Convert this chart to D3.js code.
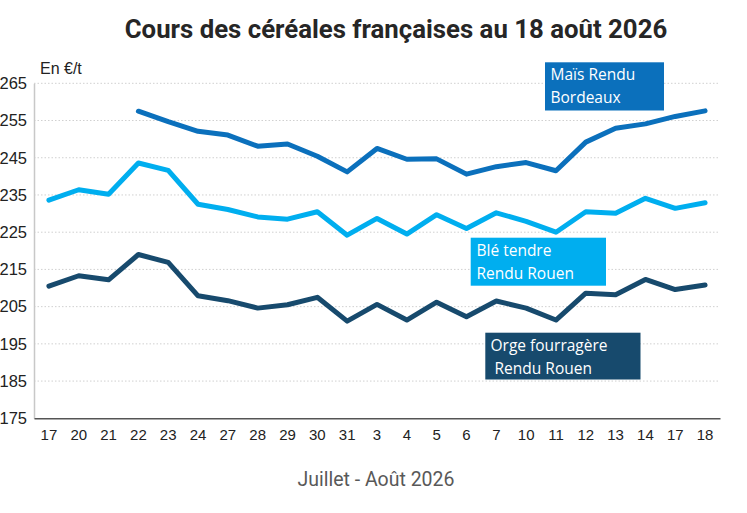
<!DOCTYPE html>
<html><head><meta charset="utf-8">
<script src="https://cdn.jsdelivr.net/npm/d3@7"></script>
<style>
html,body{margin:0;padding:0;background:#fff;overflow:hidden}
svg{display:block}
text{font-family:"Open Sans","Noto Sans",sans-serif}
</style></head>
<body>
<svg id="c" width="747" height="513"></svg>
<script>
const categories = ["17","20","21","22","23","24","27","28","29","30","31","3","4","5","6","7","10","11","12","13","14","17","18"];
const mais = [null,null,null,257.5,254.7,252.1,251.1,248.1,248.7,245.4,241.2,247.5,244.6,244.7,240.6,242.6,243.7,241.5,249.2,252.9,254.1,256.1,257.6];
const ble  = [233.6,236.4,235.2,243.6,241.6,232.5,231.1,229.1,228.5,230.5,224.2,228.7,224.5,229.7,226.0,230.2,227.9,225.0,230.5,230.1,234.1,231.4,232.9];
const orge = [210.5,213.3,212.2,219.0,216.9,207.9,206.6,204.6,205.5,207.5,201.1,205.6,201.4,206.2,202.3,206.5,204.6,201.4,208.6,208.2,212.3,209.6,210.8];
const yTicks = [175,185,195,205,215,225,235,245,255,265];
const seriesNames = ["Maïs Rendu|Bordeaux","Blé tendre|Rendu Rouen","Orge fourragère| Rendu Rouen"];
const title = "Cours des céréales françaises au 18 août 2026";
const yUnit = "En €/t";
const xTitle = "Juillet - Août 2026";

const colors = ["#0B70BC","#00AEEF","#174A6D"];
const svg = d3.select("#c");
const L = 34, R = 720, T = 83.3, B = 418.3;

const x = d3.scaleBand().domain(categories.map((c,i)=>i)).range([L,R]);
const y = d3.scaleLinear().domain([175,265]).range([B,T]);

// gridlines
svg.append("g").selectAll("line").data(yTicks.filter(t=>t>175)).join("line")
  .attr("x1",L).attr("x2",R).attr("y1",d=>y(d)).attr("y2",d=>y(d))
  .attr("stroke","#d0d0d0").attr("stroke-width",1).attr("stroke-dasharray","1.5,2");

// y axis
const ya = svg.append("g").attr("transform",`translate(${L},0)`)
  .call(d3.axisLeft(y).tickValues(yTicks).tickSize(0).tickPadding(7));
ya.select(".domain").attr("stroke","#c8c8c8").attr("stroke-width",1.5);
ya.selectAll("text").attr("font-size",16.5).attr("fill","#222")
  .style("font-family","'Liberation Sans',Arial,sans-serif");

// x axis
const xa = svg.append("g").attr("transform",`translate(0,${B})`)
  .call(d3.axisBottom(x).tickSize(0).tickPadding(11).tickFormat(i=>categories[i]));
xa.select(".domain").attr("stroke","#555").attr("stroke-width",1.5);
xa.selectAll("text").attr("font-size",15).attr("fill","#222")
  .style("font-family","'Liberation Sans',Arial,sans-serif");

// lines
const line = d3.line().defined(d=>d.v!=null).x(d=>x(d.i)+x.bandwidth()/2).y(d=>y(d.v)).curve(d3.curveLinear);
[ble, orge, mais].forEach((s,k)=>{
  const ci = [1,2,0][k];
  svg.append("path").datum(s.map((v,i)=>({v,i})))
    .attr("d",line).attr("fill","none").attr("stroke",colors[ci])
    .attr("stroke-width",5).attr("stroke-linejoin","round").attr("stroke-linecap","round");
});

// label boxes
const boxes = [
  {x0:545,y0:62.3,x1:664,y1:110.5,tx:550.5,b1:80,b2:103},
  {x0:470.7,y0:237.7,x1:606,y1:285.7,tx:476.5,b1:256,b2:279},
  {x0:485.3,y0:332.7,x1:640.5,y1:379.5,tx:490.5,b1:351,b2:373.5}
];
boxes.forEach((b,k)=>{
  svg.append("rect").attr("x",b.x0).attr("y",b.y0).attr("width",b.x1-b.x0).attr("height",b.y1-b.y0).attr("fill",colors[k]);
  const parts = seriesNames[k].split("|");
  const t = svg.append("text").attr("fill","#fff").attr("font-size",15.5).attr("xml:space","preserve");
  t.append("tspan").attr("x",b.tx).attr("y",b.b1).text(parts[0]);
  t.append("tspan").attr("x",b.tx).attr("y",b.b2).text(parts[1]);
});

// title
const tt = svg.append("text").attr("x",396).attr("y",38).attr("text-anchor","middle")
  .attr("font-size",22).attr("font-weight","bold").attr("fill","#262626")
  .style("font-family","Roboto,'Liberation Sans',sans-serif").text(title);
const w = tt.node().getComputedTextLength();
tt.attr("font-size",22*543/w);

svg.append("text").attr("x",40).attr("y",74).attr("font-size",16).attr("fill","#222")
  .style("font-family","'Liberation Sans',Arial,sans-serif").text(yUnit);

const xt = svg.append("text").attr("x",376).attr("y",486).attr("text-anchor","middle")
  .attr("font-size",18).attr("fill","#595959")
  .style("font-family","'Liberation Sans Narrow','Roboto',sans-serif").text(xTitle);
const w2 = xt.node().getComputedTextLength();
xt.attr("font-size",18*157/w2);
</script>
</body></html>
